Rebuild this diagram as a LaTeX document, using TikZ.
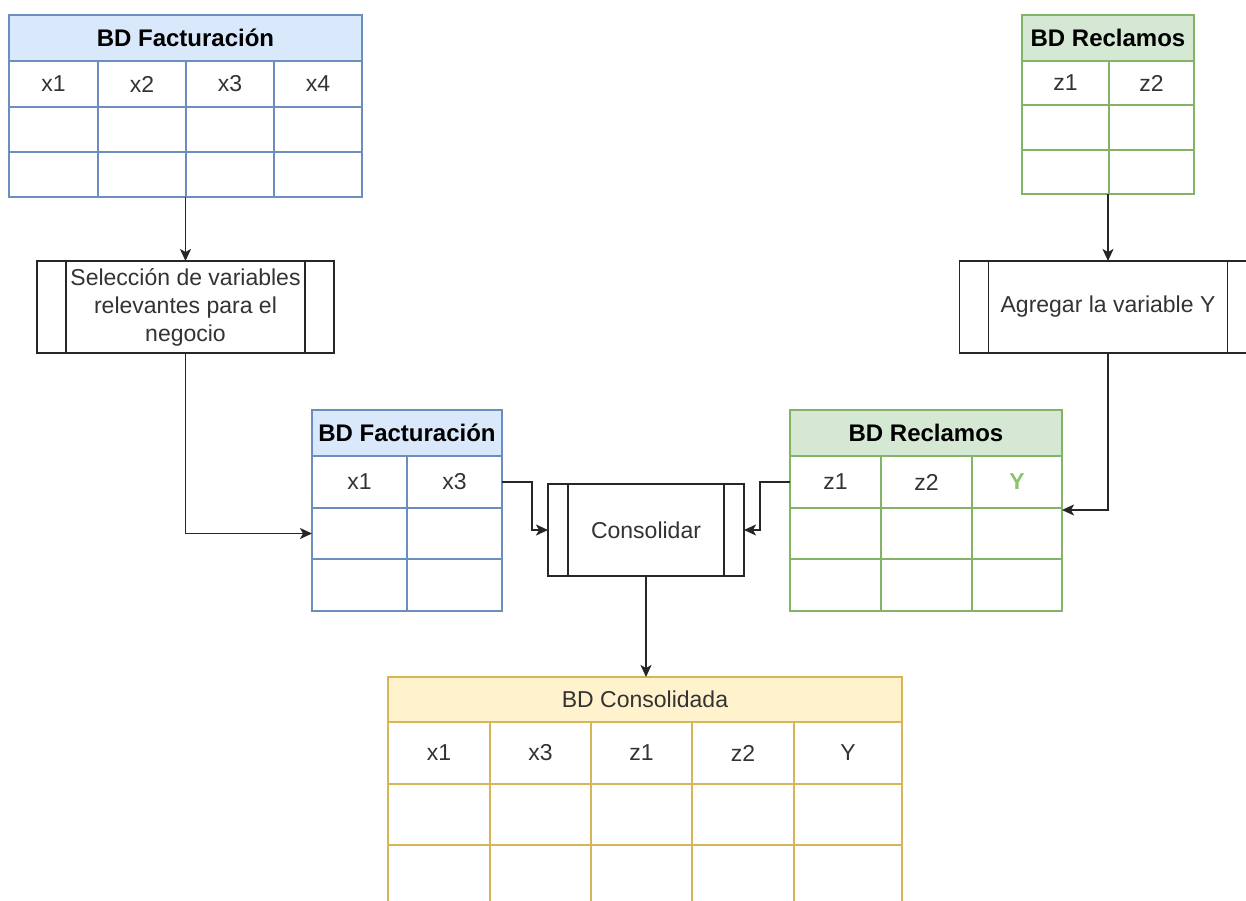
\documentclass[tikz,border=0pt]{standalone}
\usepackage{fontspec}
\setmainfont{Liberation Sans}
\usetikzlibrary{arrows.meta}
\definecolor{bfill}{HTML}{DAE8FC}
\definecolor{bline}{HTML}{6C8EBF}
\definecolor{gfill}{HTML}{D5E8D4}
\definecolor{gline}{HTML}{82B366}
\definecolor{yfill}{HTML}{FFF2CC}
\definecolor{yline}{HTML}{D6B656}
\definecolor{txt}{HTML}{333333}
\definecolor{ygreen}{HTML}{8CC46E}
\newcommand\mkcell[7]{\node[#1, minimum width=#5pt, minimum height=#6pt] (#2) at (#3,#4) {#7};}
\begin{document}
\begin{tikzpicture}[x=1pt,y=-1pt,
  cellbase/.style={rectangle, inner sep=0pt, outer sep=0pt, anchor=north west, line width=1.6pt, text=txt, font=\fontsize{23}{28}\selectfont},
  headfont/.style={font=\fontsize{24}{28}\selectfont\bfseries, text=black},
  bcell/.style={cellbase, draw=bline},
  bhead/.style={bcell, fill=bfill, headfont},
  gcell/.style={cellbase, draw=gline},
  ghead/.style={gcell, fill=gfill, headfont},
  ycell/.style={cellbase, draw=yline},
  yhead/.style={ycell, fill=yfill},
  outline/.style={rectangle, inner sep=0pt, outer sep=0pt, anchor=north west, line width=1.8pt},
  proc/.style={rectangle, draw=black!85, line width=1.5pt, fill=white, inner sep=0pt, outer sep=0pt, align=center, text=txt, font=\fontsize{23}{28}\selectfont},
  arr/.style={draw=black!85, line width=1.6pt, -{Stealth[length=12pt,width=11pt,inset=3pt]}}
]
\useasboundingbox (0,0) rectangle (1246,901);
\clip (0,0) rectangle (1246,901);

% ---------- top-left table: BD Facturacion ----------
\mkcell{bhead}{tfH}{9}{15}{353}{46}{BD Facturación}
\mkcell{bcell}{tfa1}{9}{61}{89}{46}{x1}
\mkcell{bcell}{tfb1}{98}{61}{88}{46}{x2}
\mkcell{bcell}{tfc1}{186}{61}{88}{46}{x3}
\mkcell{bcell}{tfd1}{274}{61}{88}{46}{x4}
\mkcell{bcell}{tfa2}{9}{107}{89}{45}{}
\mkcell{bcell}{tfb2}{98}{107}{88}{45}{}
\mkcell{bcell}{tfc2}{186}{107}{88}{45}{}
\mkcell{bcell}{tfd2}{274}{107}{88}{45}{}
\mkcell{bcell}{tfa3}{9}{152}{89}{45}{}
\mkcell{bcell}{tfb3}{98}{152}{88}{45}{}
\mkcell{bcell}{tfc3}{186}{152}{88}{45}{}
\mkcell{bcell}{tfd3}{274}{152}{88}{45}{}
\node[outline, draw=bline, minimum width=353pt, minimum height=182pt] (tf) at (9,15) {};

% ---------- top-right table: BD Reclamos ----------
\mkcell{ghead}{trH}{1022}{15}{172}{46}{BD Reclamos}
\mkcell{gcell}{tra1}{1022}{61}{87}{44}{z1}
\mkcell{gcell}{trb1}{1109}{61}{85}{44}{z2}
\mkcell{gcell}{tra2}{1022}{105}{87}{45}{}
\mkcell{gcell}{trb2}{1109}{105}{85}{45}{}
\mkcell{gcell}{tra3}{1022}{150}{87}{44}{}
\mkcell{gcell}{trb3}{1109}{150}{85}{44}{}
\node[outline, draw=gline, minimum width=172pt, minimum height=179pt] (tr) at (1022,15) {};

% ---------- process boxes ----------
\node[proc, minimum width=297pt, minimum height=92pt] (p1) at (185.5,307) {Selección de variables\\relevantes para el\\negocio};
\draw[black!85, line width=1.5pt] ([xshift=29pt]p1.north west) -- ([xshift=29pt]p1.south west)
      ([xshift=-29pt]p1.north east) -- ([xshift=-29pt]p1.south east);
\node[proc, minimum width=297pt, minimum height=92pt] (p2) at (1108,307) {Agregar la variable Y};
\draw[black!85, line width=1.5pt] ([xshift=29pt]p2.north west) -- ([xshift=29pt]p2.south west)
      ([xshift=-29pt]p2.north east) -- ([xshift=-29pt]p2.south east);

% ---------- middle-left table: BD Facturacion ----------
\mkcell{bhead}{mfH}{312}{410}{190}{46}{BD Facturación}
\mkcell{bcell}{mfa1}{312}{456}{95}{52}{x1}
\mkcell{bcell}{mfb1}{407}{456}{95}{52}{x3}
\mkcell{bcell}{mfa2}{312}{508}{95}{51}{}
\mkcell{bcell}{mfb2}{407}{508}{95}{51}{}
\mkcell{bcell}{mfa3}{312}{559}{95}{52}{}
\mkcell{bcell}{mfb3}{407}{559}{95}{52}{}
\node[outline, draw=bline, minimum width=190pt, minimum height=201pt] (mf) at (312,410) {};

% ---------- middle-right table: BD Reclamos ----------
\mkcell{ghead}{mrH}{790}{410}{272}{46}{BD Reclamos}
\mkcell{gcell}{mra1}{790}{456}{91}{52}{z1}
\mkcell{gcell}{mrb1}{881}{456}{91}{52}{z2}
\mkcell{gcell}{mrc1}{972}{456}{90}{52}{\textcolor{ygreen}{\bfseries Y}}
\mkcell{gcell}{mra2}{790}{508}{91}{51}{}
\mkcell{gcell}{mrb2}{881}{508}{91}{51}{}
\mkcell{gcell}{mrc2}{972}{508}{90}{51}{}
\mkcell{gcell}{mra3}{790}{559}{91}{52}{}
\mkcell{gcell}{mrb3}{881}{559}{91}{52}{}
\mkcell{gcell}{mrc3}{972}{559}{90}{52}{}
\node[outline, draw=gline, minimum width=272pt, minimum height=201pt] (mr) at (790,410) {};

% ---------- Consolidar ----------
\node[proc, minimum width=196pt, minimum height=92pt] (cons) at (646,530) {Consolidar};
\draw[black!85, line width=1.5pt] ([xshift=20pt]cons.north west) -- ([xshift=20pt]cons.south west)
      ([xshift=-20pt]cons.north east) -- ([xshift=-20pt]cons.south east);

% ---------- bottom table: BD Consolidada ----------
\mkcell{yhead}{bcH}{388}{677}{514}{45}{BD Consolidada}
\mkcell{ycell}{bca1}{388}{722}{102}{62}{x1}
\mkcell{ycell}{bcb1}{490}{722}{101}{62}{x3}
\mkcell{ycell}{bcc1}{591}{722}{101}{62}{z1}
\mkcell{ycell}{bcd1}{692}{722}{102}{62}{z2}
\mkcell{ycell}{bce1}{794}{722}{108}{62}{Y}
\mkcell{ycell}{bca2}{388}{784}{102}{61}{}
\mkcell{ycell}{bcb2}{490}{784}{101}{61}{}
\mkcell{ycell}{bcc2}{591}{784}{101}{61}{}
\mkcell{ycell}{bcd2}{692}{784}{102}{61}{}
\mkcell{ycell}{bce2}{794}{784}{108}{61}{}
\mkcell{ycell}{bca3}{388}{845}{102}{62}{}
\mkcell{ycell}{bcb3}{490}{845}{101}{62}{}
\mkcell{ycell}{bcc3}{591}{845}{101}{62}{}
\mkcell{ycell}{bcd3}{692}{845}{102}{62}{}
\mkcell{ycell}{bce3}{794}{845}{108}{62}{}
\node[outline, draw=yline, minimum width=514pt, minimum height=230pt] (bc) at (388,677) {};

% ---------- connectors ----------
\coordinate (mrin) at (1062,510);
\draw[arr] (tf.south) -- (p1.north);
\draw[arr] (tr.south) -- (p2.north);
\draw[arr] (p1.south) |- (mfa2.west);
\draw[arr] (p2.south) |- (mrin);
\draw[arr] (mfb1.east) -- ++(30,0) |- (cons.west);
\draw[arr] (mra1.west) -- ++(-30,0) |- (cons.east);
\draw[arr] (cons.south) -- (cons.south |- bc.north);
\end{tikzpicture}
\end{document}
